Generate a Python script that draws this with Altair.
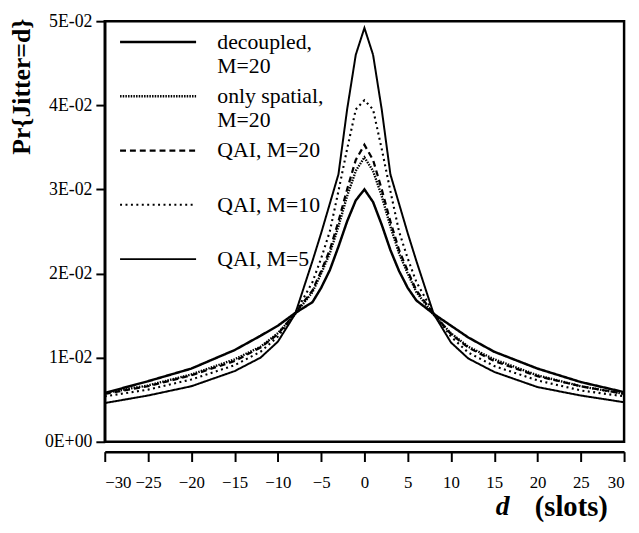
import altair as alt
import pandas as pd

# ---- data ----
d_vals = [-30, -25, -20, -15, -12, -10, -8, -6, -5, -4, -3, -2, -1, 0,
          1, 2, 3, 4, 5, 6, 8, 10, 12, 15, 20, 25, 30]

series_names = ["decoupled,|M=20", "only spatial,|M=20", "QAI, M=20", "QAI, M=10", "QAI, M=5"]

decoupled = [0.0058, 0.0072, 0.0087, 0.0109, 0.0126, 0.0138, 0.0153, 0.0166, 0.0183, 0.0204,
             0.0232, 0.0262, 0.0287, 0.0300, 0.0285, 0.0258, 0.0228, 0.0203, 0.0183, 0.0168,
             0.0152, 0.0138, 0.0124, 0.0107, 0.0087, 0.0071, 0.0059]
only_spatial = [0.0058, 0.0067, 0.0080, 0.0098, 0.0113, 0.0129, 0.0152, 0.0178, 0.0200, 0.0224,
                0.0256, 0.0292, 0.0322, 0.0338, 0.0322, 0.0292, 0.0256, 0.0224, 0.0200, 0.0178,
                0.0151, 0.0129, 0.0113, 0.0098, 0.0079, 0.0066, 0.0057]
qai_m20 = [0.0057, 0.0066, 0.0079, 0.0096, 0.0112, 0.0128, 0.0153, 0.0180, 0.0203, 0.0228,
           0.0262, 0.0300, 0.0335, 0.0353, 0.0335, 0.0300, 0.0262, 0.0228, 0.0203, 0.0180,
           0.0152, 0.0128, 0.0112, 0.0096, 0.0078, 0.0066, 0.0057]
qai_m10 = [0.0054, 0.0062, 0.0074, 0.0091, 0.0107, 0.0125, 0.0153, 0.0190, 0.0218, 0.0250,
           0.0298, 0.0348, 0.0395, 0.0406, 0.0395, 0.0348, 0.0298, 0.0250, 0.0218, 0.0190,
           0.0153, 0.0125, 0.0106, 0.0090, 0.0073, 0.0061, 0.0054]
qai_m5 = [0.0046, 0.0055, 0.0066, 0.0084, 0.0100, 0.0119, 0.0152, 0.0215, 0.0248, 0.0283,
          0.0318, 0.0395, 0.0460, 0.0492, 0.0460, 0.0395, 0.0318, 0.0283, 0.0248, 0.0215,
          0.0152, 0.0118, 0.0099, 0.0083, 0.0065, 0.0055, 0.0047]

y_ticks = [0, 0.01, 0.02, 0.03, 0.04, 0.05]
x_ticks = list(range(-30, 31, 5))

series_values = [decoupled, only_spatial, qai_m20, qai_m10, qai_m5]
dashes = [[1, 0], [1.5, 1.2], [6, 4], [2, 3.5], [1, 0]]
widths = [2.5, 2.0, 2.6, 2.0, 0.7]

rows = []
for name, vals in zip(series_names, series_values):
    for d, v in zip(d_vals, vals):
        rows.append({"series": name, "d": d, "p": v})
df = pd.DataFrame(rows)

FONT = "Liberation Serif"

legend = alt.Legend(
    title=None, orient="none", legendX=14, legendY=1,
    symbolType="stroke", symbolSize=5929, symbolStrokeColor="black",
    clipHeight=40,
    labelFont=FONT, labelFontSize=22, labelColor="black", labelOffset=20,
    labelLimit=0, rowPadding=0,
    labelExpr="indexof(datum.label, '|') >= 0 ? split(datum.label, '|') : [datum.label, ' ']",
)

lines = alt.Chart(df).mark_line(color="black", strokeCap="butt").encode(
    x=alt.X("d:Q", scale=alt.Scale(domain=[-30, 30], nice=False, zero=False),
            axis=alt.Axis(values=x_ticks, offset=10, title="(slots)", format="d",
                          tickSize=10, labelPadding=13, labelFontSize=17,
                          titleFontSize=29, titleFontWeight="bold",
                          titleAnchor="start", titleAlign="left", titleX=435, titleY=56,
                          titleBaseline="middle")),
    y=alt.Y("p:Q", scale=alt.Scale(domain=[0, 0.05], nice=False),
            axis=alt.Axis(values=y_ticks, title="Pr{Jitter=d}",
                          labelExpr="datum.value == 0 ? '0E+00' : format(datum.value*100, '.0f') + 'E-02'",
                          tickSize=9, labelPadding=4, labelFontSize=18,
                          titleFontSize=26, titleFontWeight="bold", titleAngle=-90,
                          titleAlign="right", titleBaseline="middle", titleX=-84, titleY=-3)),
    strokeDash=alt.StrokeDash("series:O", scale=alt.Scale(domain=series_names, range=dashes), legend=legend),
    strokeWidth=alt.StrokeWidth("series:O", scale=alt.Scale(domain=series_names, range=widths), legend=legend),
    order="d:Q",
)

dlabel = alt.Chart(pd.DataFrame({"t": ["d"]})).mark_text(
    font=FONT, fontSize=28, fontWeight="bold", fontStyle="italic", color="black",
    align="left", baseline="middle"
).encode(text="t:N", x=alt.value(396), y=alt.value(492))

chart = alt.layer(lines, dlabel).properties(
    width=526, height=426,
    autosize=alt.AutoSizeParams(type="none"),
    padding={"left": 98, "top": 10, "right": 7, "bottom": 85},
).configure_view(stroke="black", strokeWidth=2.5).configure_axis(
    domainColor="black", domainWidth=2.5, tickColor="black", tickWidth=2,
    labelColor="black", titleColor="black", labelFont=FONT, titleFont=FONT, grid=False,
)

chart.save("out.html", embed_options={"renderer": "svg", "actions": False})
